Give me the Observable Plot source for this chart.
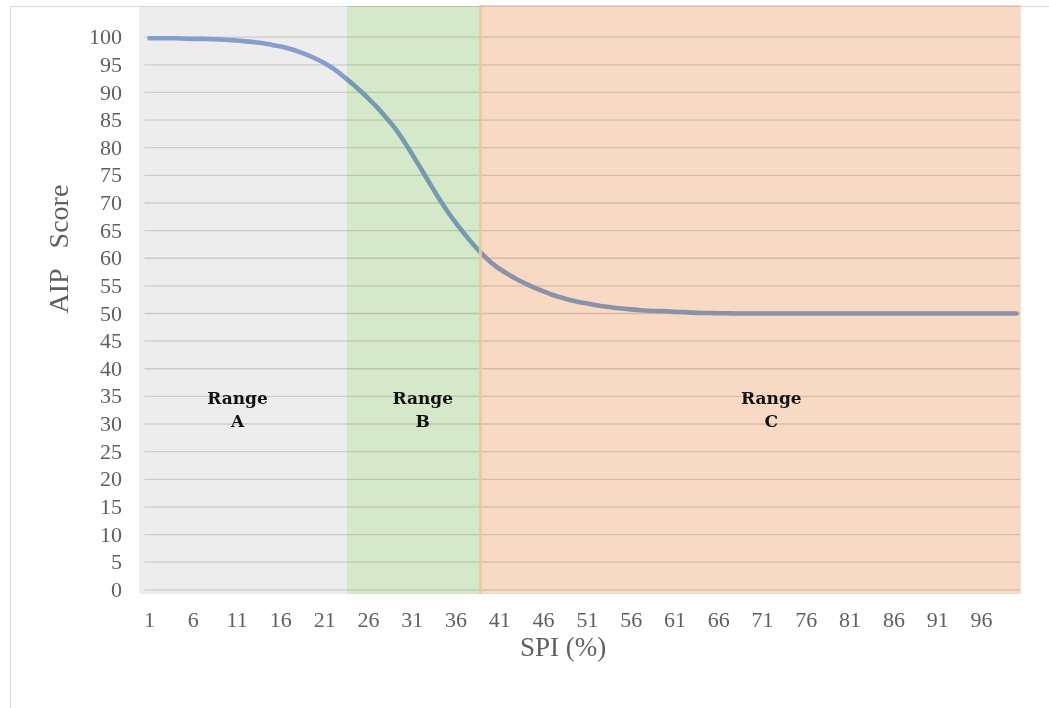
<!DOCTYPE html>
<html>
<head>
<meta charset="utf-8">
<script src="https://cdn.jsdelivr.net/npm/d3@7"></script>
<script src="https://cdn.jsdelivr.net/npm/@observablehq/plot@0.6"></script>
<style>
  html, body { margin: 0; padding: 0; background: #fff; width: 1049px; height: 708px; overflow: hidden; }
  #frame { position: absolute; left: 10px; top: 6px; width: 1120px; height: 780px; border: 1.5px solid #d9d9d9; box-sizing: border-box; }
  #chart { position: absolute; left: 0; top: 0; }
  #chart svg text { white-space: pre; }
</style>
</head>
<body>
<div id="frame"></div>
<div id="chart"></div>
<script>
// SPI categories (%) and the AIP score at each one
const spi = d3.range(1, 101);
const aipScore = [
  99.8, 99.8, 99.8, 99.8, 99.75, 99.7, 99.7, 99.65, 99.6, 99.5,
  99.4, 99.25, 99.1, 98.9, 98.6, 98.3, 97.9, 97.4, 96.8, 96.1,
  95.3, 94.3, 93.1, 91.8, 90.4, 88.9, 87.3, 85.5, 83.6, 81.3,
  78.8, 76.2, 73.55, 70.95, 68.55, 66.35, 64.35, 62.45, 60.75, 59.25,
  58.05, 57.05, 56.15, 55.35, 54.65, 54.0, 53.4, 52.9, 52.45, 52.1,
  51.8, 51.5, 51.25, 51.05, 50.9, 50.75, 50.6, 50.5, 50.45, 50.4,
  50.3, 50.25, 50.15, 50.1, 50.1, 50.05, 50.05, 50.0, 50.0, 50.0,
  50.0, 50.0, 50.0, 50.0, 50.0, 50.0, 50.0, 50.0, 50.0, 50.0,
  50.0, 50.0, 50.0, 50.0, 50.0, 50.0, 50.0, 50.0, 50.0, 50.0,
  50.0, 50.0, 50.0, 50.0, 50.0, 50.0, 50.0, 50.0, 50.0, 50.0
];

// Axis ticks
const xTicks = [1, 6, 11, 16, 21, 26, 31, 36, 41, 46, 51, 56, 61, 66, 71, 76, 81, 86, 91, 96];
const yTicks = [0, 5, 10, 15, 20, 25, 30, 35, 40, 45, 50, 55, 60, 65, 70, 75, 80, 85, 90, 95, 100];

// Shaded SPI ranges
const rangeNames = ["A", "B", "C"];
const rangeStart = [-0.1, 23.6, 38.8];
const rangeEnd = [23.6, 38.8, 100.55];
const rangeTop = [105.4, 105.55, 105.75];
const rangeBottom = [-0.85, -0.85, -0.85];
const rangeLabelX = [11.05, 32.2, 72.0];
const rangeLabelY = [32.9, 32.9, 32.9];

const rangeFill = ["#ededed", "#d5e8ca", "#f8d9c4"];

const series = spi.map((s, i) => ({spi: s, aip: aipScore[i]}));
const ranges = rangeNames.map((name, i) => ({
  name,
  start: rangeStart[i],
  end: rangeEnd[i],
  top: rangeTop[i],
  bottom: rangeBottom[i],
  labelX: rangeLabelX[i],
  labelY: rangeLabelY[i],
  fill: rangeFill[i]
}));

const serif = "'Liberation Serif', 'Times New Roman', serif";
const textGrey = "#5f5f5f";

const chart = Plot.plot({
  width: 1049,
  height: 708,
  marginLeft: 144.6,
  marginRight: 28.6,
  marginTop: 36.7,
  marginBottom: 118.7,
  style: {background: "transparent", fontFamily: serif, overflow: "visible"},
  x: {domain: [0.5, 100.5]},
  y: {domain: [0, 100]},
  marks: [
    // horizontal gridlines
    Plot.ruleY(yTicks, {stroke: "#dcdcdc", strokeWidth: 1.3}),
    // AIP score curve
    Plot.line(series, {
      x: "spi", y: "aip",
      stroke: "#8faadc", strokeWidth: 4.6,
      curve: "catmull-rom", strokeLinecap: "round", strokeLinejoin: "round"
    }),
    // translucent range bands laid over the curve
    Plot.rect(ranges, {
      x1: "start", x2: "end", y1: "bottom", y2: "top",
      fill: d => d.fill, mixBlendMode: "multiply"
    }),
    // edge of range C
    Plot.ruleX([rangeStart[2]], {
      y1: rangeBottom[2], y2: rangeTop[2],
      stroke: "#e6cba0", strokeWidth: 3, strokeOpacity: 0.9
    }),
    // range labels
    Plot.text(ranges, {
      x: "labelX", y: "labelY",
      text: d => "Range\n" + d.name,
      fontFamily: "'DejaVu Serif', serif", fontWeight: "bold", fontSize: 17,
      lineHeight: 1.35, lineAnchor: "middle", fill: "#111"
    }),
    // axes
    Plot.axisY(yTicks, {
      tickSize: 0, tickPadding: 23, fontSize: 22, color: textGrey, label: null, fontFamily: serif
    }),
    Plot.axisX(xTicks, {
      tickSize: 0, tickPadding: 22, fontSize: 22, color: textGrey, label: null, fontFamily: serif
    }),
    // axis titles
    Plot.text(["AIP   Score"], {
      frameAnchor: "left", dx: -86, rotate: -90,
      fontSize: 28, fill: textGrey, fontFamily: serif, lineAnchor: "middle"
    }),
    Plot.text(["SPI (%)"], {
      frameAnchor: "bottom", dx: -20, dy: 58,
      fontSize: 27, fill: textGrey, fontFamily: serif, lineAnchor: "middle"
    })
  ]
});

document.getElementById("chart").appendChild(chart);
</script>
</body>
</html>
